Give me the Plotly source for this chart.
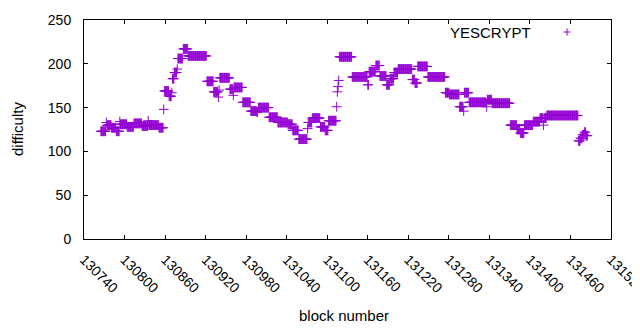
import plotly.graph_objects as go

# Difficulty plateaus: each run starts at a block and
# holds its difficulty until the next run starts (one point per block).
run_start = [
    130765, 130773, 130774, 130781, 130788, 130793, 130794, 130804, 130814, 130826,
    130835, 130836, 130851, 130858, 130859, 130866, 130870, 130871, 130874, 130878,
    130879, 130887, 130894, 130922, 130932, 130939, 130940, 130941, 130956, 130961,
    130962, 130975, 130987, 130996, 130998, 131014, 131027, 131042, 131049, 131058,
    131071, 131072, 131078, 131090, 131097, 131102, 131114, 131115, 131116, 131117,
    131118, 131137, 131160, 131162, 131172, 131178, 131188, 131193, 131199, 131205,
    131226, 131230, 131234, 131249, 131275, 131281, 131296, 131302, 131303, 131310,
    131336, 131337, 131344, 131371, 131381, 131386, 131392, 131405, 131415, 131420,
    131421, 131425, 131472, 131475, 131478, 131481, 131483,
]
run_value = [
    123, 133, 130, 127, 123, 134, 131, 128, 132, 129,
    135, 130, 127, 148, 169, 163, 167, 183, 190, 194,
    206, 217, 209, 180, 168, 162, 170, 184, 171, 164,
    173, 156, 146, 145, 150, 139, 133, 131, 124, 114,
    126, 133, 138, 128, 124, 135, 151, 168, 174, 181,
    208, 185, 176, 191, 198, 186, 176, 183, 190, 194,
    182, 178, 197, 185, 167, 165, 151, 146, 167, 156,
    151, 159, 155, 130, 125, 121, 130, 134, 138, 130,
    138, 141, 112, 115, 119, 122, 118,
]
last_block = 131485

x_tickvals = [130740, 130800, 130860, 130920, 130980, 131040, 131100,
              131160, 131220, 131280, 131340, 131400, 131460, 131520]
y_tickvals = [0, 50, 100, 150, 200, 250]
series_name = "YESCRYPT"

blocks, diffs = [], []
for i, s in enumerate(run_start):
    e = run_start[i + 1] - 1 if i + 1 < len(run_start) else last_block
    for b in range(s, e + 1):
        blocks.append(b)
        diffs.append(run_value[i])

COLOR = "#9400D3"
FONT = "Liberation Sans"

fig = go.Figure(go.Scatter(
    x=blocks, y=diffs, mode="markers", name=series_name, showlegend=False,
    marker=dict(symbol="cross-thin-open", size=7, color=COLOR,
                line=dict(width=1, color=COLOR)),
))

# page offset of the plot div (browser default body margin)
OFF = 8
L, R, T, B = 84, 611, 20, 239          # plot box in window pixels
W, H = 640 - OFF, 330 - OFF

def px(xp):
    return (xp - L) / (R - L)

def py(yp):
    return (B - yp) / (B - T)

axis_common = dict(showline=True, linecolor="black", linewidth=1, mirror="ticks",
                   ticks="inside", ticklen=4, tickcolor="black", showgrid=False,
                   zeroline=False, automargin=False, ticklabeloverflow="allow",
                   tickfont=dict(family=FONT, size=14, color="black"))

fig.update_layout(
    width=W, height=H,
    margin=dict(l=L - OFF, r=640 - R, t=T - OFF, b=330 - B, autoexpand=False),
    paper_bgcolor="white", plot_bgcolor="white",
    xaxis=dict(range=[x_tickvals[0], x_tickvals[-1]], tickvals=x_tickvals,
               ticktext=[str(v) for v in x_tickvals], tickangle=45,
               ticklabelstandoff=6, **axis_common),
    yaxis=dict(range=[y_tickvals[0], y_tickvals[-1]], tickvals=y_tickvals,
               ticklabelstandoff=9, **axis_common),
    font=dict(family=FONT, size=14, color="black"),
    annotations=[
        dict(text="block number", xref="paper", yref="paper", x=px(344), y=py(315),
             xanchor="center", yanchor="middle", showarrow=False,
             font=dict(family=FONT, size=15, color="black")),
        dict(text="difficulty", xref="paper", yref="paper", x=px(17), y=py(129),
             xanchor="center", yanchor="middle", textangle=-90, showarrow=False,
             font=dict(family=FONT, size=15, color="black")),
        dict(text=series_name, xref="paper", yref="paper", x=px(533), y=py(32),
             xanchor="right", yanchor="middle", showarrow=False,
             font=dict(family=FONT, size=15, color="black")),
    ],
    shapes=[
        dict(type="line", xref="paper", yref="paper", x0=px(563.5), x1=px(570.5),
             y0=py(32), y1=py(32), line=dict(color=COLOR, width=1)),
        dict(type="line", xref="paper", yref="paper", x0=px(567), x1=px(567),
             y0=py(28.5), y1=py(35.5), line=dict(color=COLOR, width=1)),
    ],
)

fig.write_html("out.html")
